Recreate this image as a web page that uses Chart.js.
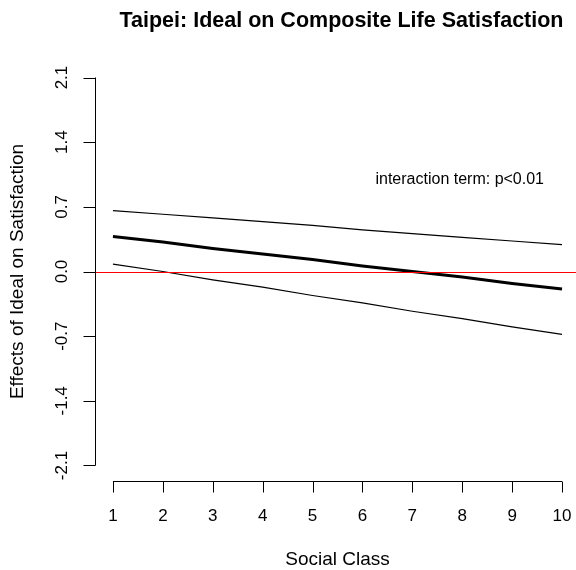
<!DOCTYPE html>
<html>
<head>
<meta charset="utf-8">
<script src="https://cdn.jsdelivr.net/npm/chart.js@4"></script>
<style>
    body { margin: 0; background: #fff; }
    canvas { display: block; }
</style>
</head>
<body>
<canvas id="effectChart" width="576" height="570"></canvas>
<script>
// Dados
const socialClass = [1, 2, 3, 4, 5, 6, 7, 8, 9, 10];
const effect = [0.38, 0.32, 0.25, 0.19, 0.13, 0.06, 0.00, -0.06, -0.13, -0.19];
const upperBound = [0.66, 0.62, 0.58, 0.54, 0.50, 0.45, 0.41, 0.37, 0.33, 0.29];
const lowerBound = [0.08, -0.00, -0.09, -0.17, -0.26, -0.34, -0.43, -0.51, -0.60, -0.68];
const yTicks = [-2.1, -1.4, -0.7, 0.0, 0.7, 1.4, 2.1];
const xTicks = [1, 2, 3, 4, 5, 6, 7, 8, 9, 10];
const noteText = 'interaction term: p<0.01';
const notePos = { x: 7.95, y: 0.99 };

const FONT = 'Liberation Sans, Arial, sans-serif';

function toPoints(values) {
    return socialClass.map((x, i) => ({ x: x, y: values[i] }));
}

// Eixos no estilo do R (desenhados a partir das escalas do Chart.js)
const rAxes = {
    id: 'rAxes',
    afterDraw(chart) {
        const { ctx, scales: { x, y }, chartArea } = chart;
        ctx.save();
        ctx.strokeStyle = '#000';
        ctx.fillStyle = '#000';
        ctx.lineWidth = 1;

        // linha de referência em zero
        ctx.beginPath();
        ctx.strokeStyle = '#ff0000';
        const y0 = Math.round(y.getPixelForValue(0)) + 0.5;
        ctx.moveTo(chartArea.left, y0);
        ctx.lineTo(chartArea.right, y0);
        ctx.stroke();

        // eixo y
        ctx.strokeStyle = '#000';
        const ax = Math.round(chartArea.left) + 0.5;
        ctx.beginPath();
        ctx.moveTo(ax, y.getPixelForValue(yTicks[0]));
        ctx.lineTo(ax, y.getPixelForValue(yTicks[yTicks.length - 1]));
        yTicks.forEach(t => {
            const py = Math.round(y.getPixelForValue(t)) + 0.5;
            ctx.moveTo(ax, py);
            ctx.lineTo(ax - 12, py);
        });
        ctx.stroke();

        ctx.font = '17px ' + FONT;
        ctx.textAlign = 'center';
        ctx.textBaseline = 'middle';
        yTicks.forEach(t => {
            ctx.save();
            ctx.translate(62, y.getPixelForValue(t));
            ctx.rotate(-Math.PI / 2);
            ctx.fillText(t.toFixed(1), 0, 0);
            ctx.restore();
        });

        // eixo x
        const ay = Math.round(chartArea.bottom) + 0.5;
        ctx.beginPath();
        ctx.moveTo(x.getPixelForValue(xTicks[0]), ay);
        ctx.lineTo(x.getPixelForValue(xTicks[xTicks.length - 1]), ay);
        xTicks.forEach(t => {
            const px = Math.round(x.getPixelForValue(t)) + 0.5;
            ctx.moveTo(px, ay);
            ctx.lineTo(px, ay + 11);
        });
        ctx.stroke();
        xTicks.forEach(t => {
            ctx.fillText(String(t), x.getPixelForValue(t), 516);
        });

        // rótulos dos eixos
        ctx.font = '19px ' + FONT;
        const midX = (chartArea.left + x.getPixelForValue(10.36)) / 2;
        ctx.fillText('Social Class', midX, 560);
        ctx.save();
        ctx.translate(18, (chartArea.top + chartArea.bottom) / 2);
        ctx.rotate(-Math.PI / 2);
        ctx.fillText('Effects of Ideal on Satisfaction', 0, 0);
        ctx.restore();

        // título
        ctx.font = 'bold 21.5px ' + FONT;
        ctx.fillText('Taipei: Ideal on Composite Life Satisfaction', midX + 4, 21);

        // anotação
        ctx.font = '16px ' + FONT;
        ctx.fillText(noteText, x.getPixelForValue(notePos.x), y.getPixelForValue(notePos.y));
        ctx.restore();
    }
};

new Chart(document.getElementById('effectChart'), {
    type: 'line',
    data: {
        datasets: [
            {
                label: 'Upper',
                data: toPoints(upperBound),
                borderColor: '#000',
                borderWidth: 1.2,
                pointRadius: 0
            },
            {
                label: 'Effect',
                data: toPoints(effect),
                borderColor: '#000',
                borderWidth: 3,
                pointRadius: 0
            },
            {
                label: 'Lower',
                data: toPoints(lowerBound),
                borderColor: '#000',
                borderWidth: 1.2,
                pointRadius: 0
            }
        ]
    },
    options: {
        responsive: false,
        animation: false,
        layout: {
            padding: { left: 95, top: 62, right: 0, bottom: 89 }
        },
        plugins: {
            legend: { display: false },
            tooltip: { enabled: false }
        },
        scales: {
            x: { type: 'linear', min: 0.64, max: 10.28, display: false },
            y: { min: -2.268, max: 2.268, display: false }
        }
    },
    plugins: [rAxes]
});
</script>
</body>
</html>
